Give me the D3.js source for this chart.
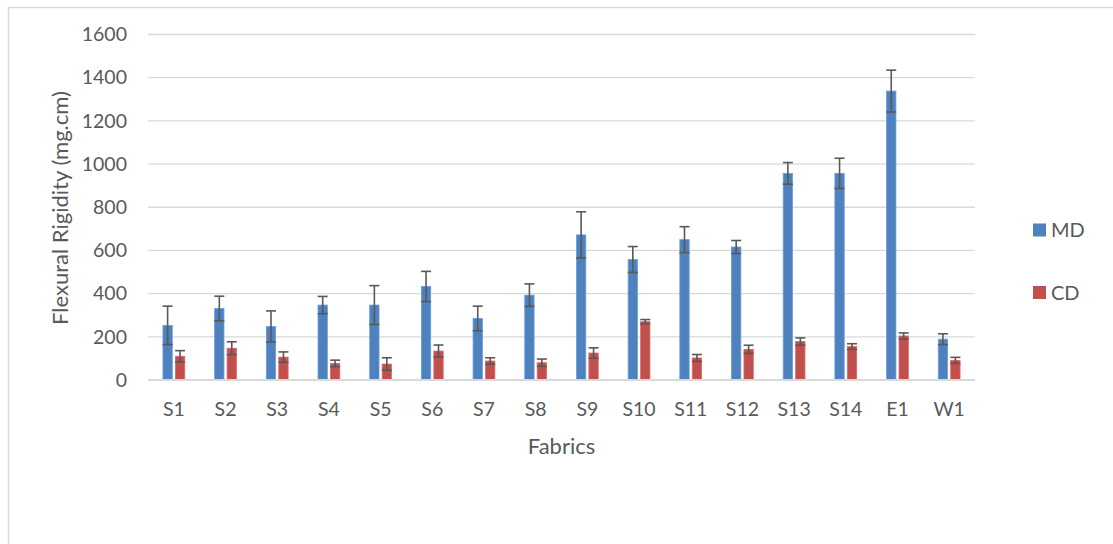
<!DOCTYPE html>
<html><head><meta charset="utf-8">
<script src="https://cdn.jsdelivr.net/npm/d3@7"></script>
<style>
html,body{margin:0;padding:0;background:#fff;}
svg{display:block;font-family:Lato,"Open Sans",sans-serif;}
</style></head>
<body>
<svg id="chart" width="1113" height="544"></svg>
<script>
const categories = ["S1","S2","S3","S4","S5","S6","S7","S8","S9","S10","S11","S12","S13","S14","E1","W1"];
const mdValues = [253,331,248,347,347,433,285,393,672,558,650,616,957,957,1338,189];
const mdErrors = [89,57,72,40,90,70,57,52,107,60,60,30,50,70,97,25];
const cdValues = [110,147,106,77,74,134,88,80,125,270,102,142,178,155,204,91];
const cdErrors = [26,30,24,15,29,28,15,17,24,10,16,19,17,13,14,14];
const yTicks = [0,200,400,600,800,1000,1200,1400,1600];
const seriesNames = ["MD","CD"];
const colors = {MD:"#4F81BD", CD:"#C0504D"};

(function(){
const svg = d3.select("#chart");
const pLeft = 148, pRight = 975, pTop = 34.5, pBottom = 380;

// outer frame
svg.append("rect").attr("x",8.5).attr("y",7.5).attr("width",1200).attr("height",700)
  .attr("fill","none").attr("stroke","#D9D9D9").attr("stroke-width",1.5);

const x = d3.scaleBand().domain(categories).range([pLeft,pRight]).paddingInner(0).paddingOuter(0);
const x1 = d3.scaleBand().domain(seriesNames).range([0,x.bandwidth()]).paddingInner(0.25).paddingOuter(1.2);
const y = d3.scaleLinear().domain([0,1600]).range([pBottom,pTop]);

// gridlines
svg.append("g").selectAll("line").data(yTicks.filter(d=>d>0)).join("line")
  .attr("x1",pLeft).attr("x2",pRight).attr("y1",d=>y(d)).attr("y2",d=>y(d))
  .attr("stroke","#D9D9D9").attr("stroke-width",1.3);

// y axis labels
const yAxis = d3.axisLeft(y).tickValues(yTicks).tickSize(0).tickPadding(0).tickFormat(d3.format("d"));
const gy = svg.append("g").attr("transform",`translate(${pLeft-21},0)`).call(yAxis);
gy.select(".domain").remove();
gy.selectAll("text").attr("font-size",19.5).attr("fill","#595959").attr("font-family","Lato,sans-serif");

// bars
const data = [];
categories.forEach((c,i)=>{
  data.push({cat:c, s:"MD", v:mdValues[i], e:mdErrors[i]});
  data.push({cat:c, s:"CD", v:cdValues[i], e:cdErrors[i]});
});
svg.append("g").selectAll("rect").data(data).join("rect")
  .attr("x",d=>x(d.cat)+x1(d.s)).attr("width",x1.bandwidth())
  .attr("y",d=>y(d.v)).attr("height",d=>y(0)-y(d.v))
  .attr("fill",d=>colors[d.s]).attr("stroke",d=>d3.color(colors[d.s]).brighter(0.6)).attr("stroke-width",0.8);

// baseline
svg.append("line").attr("x1",pLeft).attr("x2",pRight).attr("y1",y(0)).attr("y2",y(0))
  .attr("stroke","#D9D9D9").attr("stroke-width",2);

// error bars
const eg = svg.append("g").attr("stroke","#595959").attr("stroke-width",1.6);
data.forEach(d=>{
  const cx = x(d.cat)+x1(d.s)+x1.bandwidth()/2;
  const cap = 5;
  eg.append("line").attr("x1",cx).attr("x2",cx).attr("y1",y(d.v+d.e)).attr("y2",y(d.v-d.e));
  eg.append("line").attr("x1",cx-cap).attr("x2",cx+cap).attr("y1",y(d.v+d.e)).attr("y2",y(d.v+d.e));
  eg.append("line").attr("x1",cx-cap).attr("x2",cx+cap).attr("y1",y(d.v-d.e)).attr("y2",y(d.v-d.e));
});

// x axis labels
const xAxis = d3.axisBottom(x).tickSize(0).tickPadding(0);
const gx = svg.append("g").attr("transform",`translate(0,${pBottom+29})`).call(xAxis);
gx.select(".domain").remove();
gx.selectAll("text").attr("font-size",19.5).attr("fill","#595959").attr("font-family","Lato,sans-serif").attr("dy","0.35em");

// axis titles
svg.append("text").attr("x",(pLeft+pRight)/2).attr("y",446).attr("dy","0.35em").attr("text-anchor","middle")
  .attr("font-size",22).attr("fill","#595959").text("Fabrics");
svg.append("text").attr("transform",`translate(60,${208}) rotate(-90)`).attr("text-anchor","middle")
  .attr("dy","0.35em").attr("font-size",22).attr("fill","#595959").text("Flexural Rigidity (mg.cm)");

// legend
const leg = svg.append("g");
const legY = {MD:230, CD:292.5};
seriesNames.forEach(s=>{
  leg.append("rect").attr("x",1033).attr("y",legY[s]-6.5).attr("width",13).attr("height",13).attr("fill",colors[s]);
  leg.append("text").attr("x",1051).attr("y",legY[s]).attr("dy","0.35em").attr("font-size",20).attr("fill","#595959").text(s);
});
})();
</script>
</body></html>
